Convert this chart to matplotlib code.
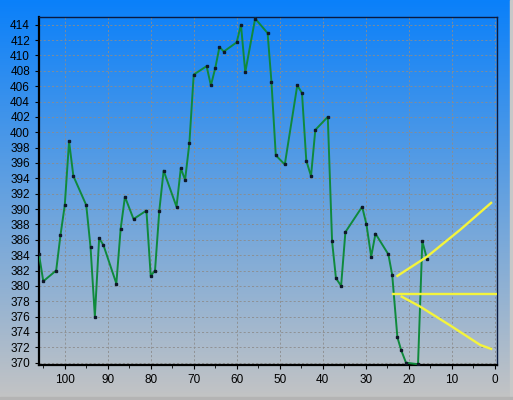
import numpy as np
import matplotlib.pyplot as plt
from matplotlib.patches import Rectangle

# price series (x = days back, reversed axis)
days = [106, 105, 102, 101, 100, 99, 98, 95, 94, 93, 92, 91, 88, 87, 86, 84,
        81, 80, 79, 78, 77, 74, 73, 72, 71, 70, 67, 66, 65, 64, 63, 60, 59,
        58, 55.7, 52.8, 51.9, 50.9, 48.8, 45.9, 44.8, 43.8, 42.7, 41.7, 38.8,
        37.8, 36.9, 35.7, 34.7, 30.8, 29.8, 28.7, 27.7, 24.7, 23.8, 22.6,
        21.7, 20.6, 17.8, 16.8, 15.7]
price = [384.1, 380.6, 382.0, 386.6, 390.5, 398.8, 394.3, 390.5, 385.0, 376.0,
         386.2, 385.3, 380.3, 387.4, 391.6, 388.7, 389.8, 381.3, 382.0, 389.8,
         395.0, 390.3, 395.3, 393.8, 398.6, 407.5, 408.6, 406.1, 408.3, 411.1,
         410.5, 411.7, 414.0, 407.8, 414.8, 412.9, 406.5, 397.0, 395.8, 406.1,
         405.1, 396.3, 394.3, 400.3, 402.0, 385.8, 381.0, 380.0, 387.0, 390.3,
         388.0, 383.8, 386.8, 384.1, 381.4, 373.3, 371.6, 370.0, 369.8, 385.8,
         383.5]

# forecast channel (yellow)
mid_x = [23.7, -0.4]
mid_y = [378.9, 378.9]
up_x = [22.6, 15.7, 8.0, 0.8]
up_y = [381.3, 383.8, 387.3, 390.8]
lo_x = [21.6, 17.3, 9.9, 3.3, 0.8]
lo_y = [378.6, 377.3, 374.7, 372.3, 371.8]

fig = plt.figure(figsize=(5.13, 4.0), dpi=100)

# background gradient over whole figure
bg = fig.add_axes([0, 0, 1, 1], zorder=-10)
top = np.array([10, 128, 250]) / 255
bot = np.array([196, 196, 196]) / 255
t = np.linspace(0, 1, 256)[:, None]
grad = (1 - t) * top + t * bot
bg.imshow(grad[:, None, :], aspect='auto', extent=[0, 1, 0, 1])
bg.axis('off')
fig.patches.append(Rectangle((0.994, 0), 0.006, 1, transform=fig.transFigure,
                             color='#c8c8c8', zorder=5))
fig.patches.append(Rectangle((0, 0), 1, 0.007, transform=fig.transFigure,
                             color='#b4b4b4', zorder=5))

ax = fig.add_axes([0.076, 0.0875, 0.893, 0.87])
ax.patch.set_alpha(0)

ax.plot(days, price, color='#0f8a3c', lw=1.4, zorder=3)
ax.plot(days, price, 's', color='#101828', ms=1.6, zorder=4)
ax.plot(mid_x, mid_y, color='#f4f43c', lw=1.7, zorder=5)
ax.plot(up_x, up_y, color='#f4f43c', lw=1.7, zorder=5)
ax.plot(lo_x, lo_y, color='#f4f43c', lw=1.7, zorder=5)

ax.set_xlim(106, -0.6)
ax.set_ylim(369.7, 415.0)
ax.set_xticks(range(0, 101, 10))
ax.set_xticks(range(5, 106, 10), minor=True)
ax.set_yticks(range(370, 415, 2))
ax.grid(True, which='major', color='#8c8c8c', ls=(0, (2.5, 2.5)), lw=0.6)

ax.tick_params(axis='both', labelsize=8.5, colors='black', length=3, width=0.8)
ax.tick_params(axis='x', which='minor', length=2)
for lab in ax.get_xticklabels() + ax.get_yticklabels():
    lab.set_family('Liberation Sans')

ax.spines['left'].set_linewidth(1.6)
ax.spines['bottom'].set_linewidth(1.6)
ax.spines['top'].set_color('#0a1a40')
ax.spines['right'].set_color('#0a1a40')
ax.spines['top'].set_linewidth(1.0)
ax.spines['right'].set_linewidth(1.0)

plt.savefig('out.png', dpi=100)
